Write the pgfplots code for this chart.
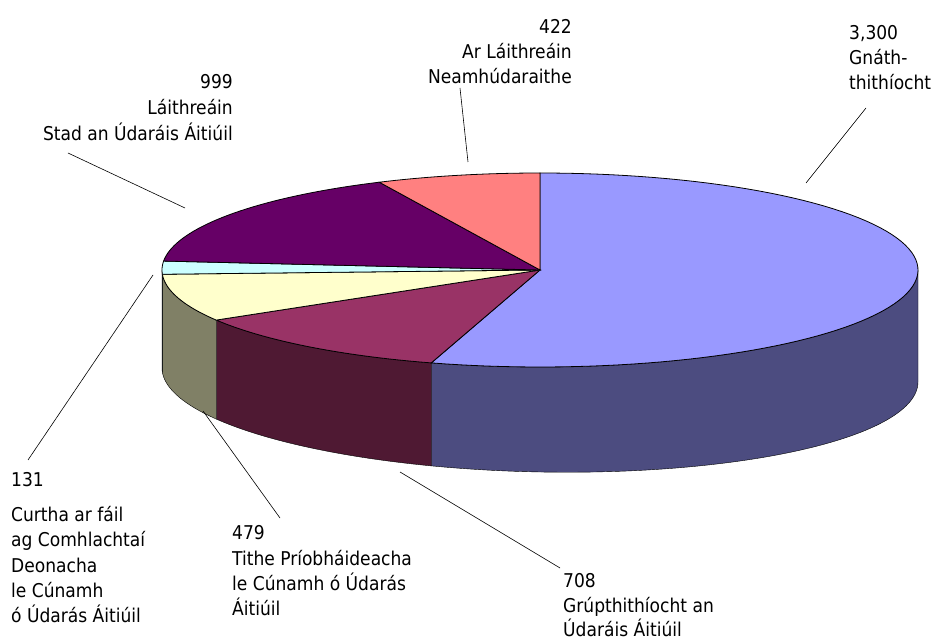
\documentclass[border=0pt]{standalone}
\usepackage{pgfplots}
\pgfplotsset{compat=1.18}
\usepackage{pgfplotstable}
\usepgfplotslibrary{fillbetween}
\usepackage{fontspec}
\setmainfont{DejaVu Sans Condensed}

\definecolor{cBlue}{HTML}{9999FF}\definecolor{sBlue}{HTML}{4C4C80}
\definecolor{cMaroon}{HTML}{993366}\definecolor{sMaroon}{HTML}{4F1933}
\definecolor{cCream}{HTML}{FFFFCC}\definecolor{sCream}{HTML}{808066}
\definecolor{cCyan}{HTML}{CCFFFF}\definecolor{sCyan}{HTML}{668080}
\definecolor{cPurple}{HTML}{660066}\definecolor{sPurple}{HTML}{330033}
\definecolor{cSalmon}{HTML}{FF8080}\definecolor{sSalmon}{HTML}{804040}

% slices, clockwise from 12 o'clock
\pgfplotstableread{
value
3300
708
479
131
999
422
}\piedata

\begin{document}
\begin{tikzpicture}[
  lw/.style={anchor=base west,inner sep=0pt,font=\fontsize{19}{25}\selectfont},
  le/.style={anchor=base east,inner sep=0pt,font=\fontsize{19}{25}\selectfont}]
\pgfplotstablegetelem{0}{value}\of\piedata\let\vA\pgfplotsretval
\pgfplotstablegetelem{1}{value}\of\piedata\let\vB\pgfplotsretval
\pgfplotstablegetelem{2}{value}\of\piedata\let\vC\pgfplotsretval
\pgfplotstablegetelem{3}{value}\of\piedata\let\vD\pgfplotsretval
\pgfplotstablegetelem{4}{value}\of\piedata\let\vE\pgfplotsretval
\pgfplotstablegetelem{5}{value}\of\piedata\let\vF\pgfplotsretval
\pgfmathsetmacro\tot{\vA+\vB+\vC+\vD+\vE+\vF}
\pgfmathsetmacro\aA{360*(\vA/\tot)}
\pgfmathsetmacro\aB{\aA+360*(\vB/\tot)}
\pgfmathsetmacro\aC{\aB+360*(\vC/\tot)}
\pgfmathsetmacro\aD{\aC+360*(\vD/\tot)}
\pgfmathsetmacro\aE{\aD+360*(\vE/\tot)}
\def\cx{540}\def\cy{270}\def\rx{378}\def\ry{97}\def\dep{105}
\begin{axis}[width=942pt,height=640pt,scale only axis,hide axis,
  xmin=0,xmax=942,ymin=0,ymax=640,y dir=reverse,clip=false,
  every axis plot/.append style={line width=0.8pt}]
\coordinate (bbA) at (rel axis cs:0,0);
\coordinate (bbB) at (rel axis cs:1,1);
% ---- side faces (front half: 90..270), slightly deeper on the right
\addplot[draw=none,name path=At,domain=90:\aA,samples=60,variable=\t] ({\cx+\rx*sin(\t)},{\cy-\ry*cos(\t)});
\addplot[draw=none,name path=Ab,domain=90:\aA,samples=60,variable=\t] ({\cx+\rx*sin(\t)},{\cy+\dep+7*sin(\t)-\ry*cos(\t)});
\addplot[fill=sBlue,draw=black] fill between[of=At and Ab];
\addplot[draw=none,name path=Bt,domain=\aA:\aB,samples=30,variable=\t] ({\cx+\rx*sin(\t)},{\cy-\ry*cos(\t)});
\addplot[draw=none,name path=Bb,domain=\aA:\aB,samples=30,variable=\t] ({\cx+\rx*sin(\t)},{\cy+\dep+7*sin(\t)-\ry*cos(\t)});
\addplot[fill=sMaroon,draw=black] fill between[of=Bt and Bb];
\addplot[draw=none,name path=Ct,domain=\aB:\aC,samples=30,variable=\t] ({\cx+\rx*sin(\t)},{\cy-\ry*cos(\t)});
\addplot[draw=none,name path=Cb,domain=\aB:\aC,samples=30,variable=\t] ({\cx+\rx*sin(\t)},{\cy+\dep+7*sin(\t)-\ry*cos(\t)});
\addplot[fill=sCream,draw=black] fill between[of=Ct and Cb];
\addplot[draw=none,name path=Dt,domain=\aC:270,samples=5,variable=\t] ({\cx+\rx*sin(\t)},{\cy-\ry*cos(\t)});
\addplot[draw=none,name path=Db,domain=\aC:270,samples=5,variable=\t] ({\cx+\rx*sin(\t)},{\cy+\dep+7*sin(\t)-\ry*cos(\t)});
\addplot[fill=sCyan,draw=black] fill between[of=Dt and Db];
% ---- top faces
\addplot[fill=cBlue,draw=black,domain=0:\aA,samples=90,variable=\t] ({\cx+\rx*sin(\t)},{\cy-\ry*cos(\t)}) -- (axis cs:\cx,\cy) -- cycle;
\addplot[fill=cMaroon,draw=black,domain=\aA:\aB,samples=30,variable=\t] ({\cx+\rx*sin(\t)},{\cy-\ry*cos(\t)}) -- (axis cs:\cx,\cy) -- cycle;
\addplot[fill=cCream,draw=black,domain=\aB:\aC,samples=30,variable=\t] ({\cx+\rx*sin(\t)},{\cy-\ry*cos(\t)}) -- (axis cs:\cx,\cy) -- cycle;
\addplot[fill=cCyan,draw=black,domain=\aC:\aD,samples=10,variable=\t] ({\cx+\rx*sin(\t)},{\cy-\ry*cos(\t)}) -- (axis cs:\cx,\cy) -- cycle;
\addplot[fill=cPurple,draw=black,domain=\aD:\aE,samples=40,variable=\t] ({\cx+\rx*sin(\t)},{\cy-\ry*cos(\t)}) -- (axis cs:\cx,\cy) -- cycle;
\addplot[fill=cSalmon,draw=black,domain=\aE:360,samples=20,variable=\t] ({\cx+\rx*sin(\t)},{\cy-\ry*cos(\t)}) -- (axis cs:\cx,\cy) -- cycle;
% ---- leader lines
\addplot[black,line width=0.6pt] coordinates {(68,153) (185,208)};
\addplot[black,line width=0.6pt] coordinates {(460,88) (468,162)};
\addplot[black,line width=0.6pt] coordinates {(866,108) (806,183)};
\addplot[black,line width=0.6pt] coordinates {(28,460) (153,275)};
\addplot[black,line width=0.6pt] coordinates {(280,518) (203,411)};
\addplot[black,line width=0.6pt] coordinates {(400,472) (560,568)};
% ---- labels
\node[le] at (axis cs:233,89) {999};
\node[le] at (axis cs:233,115) {Láithreáin};
\node[le] at (axis cs:233,141) {Stad an Údaráis Áitiúil};
\node[le] at (axis cs:572,34) {422};
\node[le] at (axis cs:572,59) {Ar Láithreáin};
\node[le] at (axis cs:572,84) {Neamhúdaraithe};
\node[lw] at (axis cs:849,40) {3,300};
\node[lw] at (axis cs:849,65) {Gnáth-};
\node[lw] at (axis cs:849,90) {thithíocht};
\node[lw] at (axis cs:11,487) {131};
\node[lw] at (axis cs:11,522) {Curtha ar fáil};
\node[lw] at (axis cs:11,547) {ag Comhlachtaí};
\node[lw] at (axis cs:11,572) {Deonacha};
\node[lw] at (axis cs:11,597) {le Cúnamh};
\node[lw] at (axis cs:11,622) {ó Údarás Áitiúil};
\node[lw] at (axis cs:232,540) {479};
\node[lw] at (axis cs:232,565) {Tithe Príobháideacha};
\node[lw] at (axis cs:232,590) {le Cúnamh ó Údarás};
\node[lw] at (axis cs:232,615) {Áitiúil};
\node[lw] at (axis cs:563,587) {708};
\node[lw] at (axis cs:563,612) {Grúpthithíocht an};
\node[lw] at (axis cs:563,636) {Údaráis Áitiúil};
\end{axis}
\pgfresetboundingbox
\path (bbA) rectangle (bbB);
\end{tikzpicture}
\end{document}
